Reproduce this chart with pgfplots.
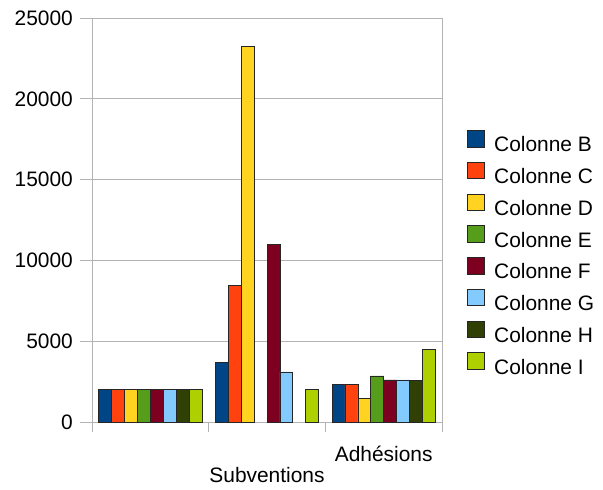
\documentclass[border=0pt]{standalone}
\usepackage{fontspec}
\setmainfont{Liberation Sans}
\usepackage{pgfplots}
\pgfplotsset{compat=1.18}

\definecolor{colB}{HTML}{004586}
\definecolor{colC}{HTML}{FF420E}
\definecolor{colD}{HTML}{FFD320}
\definecolor{colE}{HTML}{579D1C}
\definecolor{colF}{HTML}{7E0021}
\definecolor{colG}{HTML}{83CAFF}
\definecolor{colH}{HTML}{314004}
\definecolor{colI}{HTML}{AECF00}
\definecolor{gridgrey}{HTML}{B3B3B3}

\begin{document}
\fontsize{21}{25}\selectfont
\begin{tikzpicture}
\begin{axis}[
    name=ax,
    width=350bp, height=404bp, scale only axis,
    ybar=0pt, bar width=12.9bp,
    xmin=-0.5, xmax=2.5,
    ymin=0, ymax=25000,
    ytick={0,5000,10000,15000,20000,25000},
    scaled y ticks=false,
    /pgf/number format/1000 sep={},
    /pgf/number format/assume math mode=true,
    xtick pos=lower, ytick pos=left,
    xtick={0,2}, xticklabels={{},Adhésions},
    xticklabel style={yshift=-5bp},
    extra x ticks={1}, extra x tick labels={Subventions},
    extra x tick style={xticklabel style={inner sep=0pt, yshift=-28bp}, grid=none},
    minor xtick={-0.5,0.5,1.5,2.5},
    major x tick style={draw=none},
    tick align=outside,
    major tick length=12bp, minor tick length=10bp,
    tick style={draw=gridgrey, line width=0.8bp},
    axis line style={draw=gridgrey, line width=0.8bp},
    ymajorgrids, grid style={draw=gridgrey, line width=0.8bp},
    every axis plot/.append style={draw=black!85, line width=0.7bp},
    legend cell align=left,
    legend image code/.code={\draw[#1] (0bp,-2.5bp) rectangle (16.5bp,14bp);},
    legend style={draw=none, fill=none, at={(1,1)}, anchor=north west,
        xshift=25bp, yshift=-112bp, inner sep=0pt, outer sep=0pt,
        row sep=9.9bp, column sep=10bp,
        nodes={inner sep=0pt, text height=15bp, text depth=0pt}},
]
% Colonne B
\addplot[fill=colB] coordinates {(0,2000) (1,3700) (2,2350)};
% Colonne C
\addplot[fill=colC] coordinates {(0,2000) (1,8450) (2,2350)};
% Colonne D
\addplot[fill=colD] coordinates {(0,2000) (1,23250) (2,1450)};
% Colonne E
\addplot[fill=colE] coordinates {(0,2000) (2,2850)};
% Colonne F
\addplot[fill=colF] coordinates {(0,2000) (1,11000) (2,2600)};
% Colonne G
\addplot[fill=colG] coordinates {(0,2000) (1,3100) (2,2600)};
% Colonne H
\addplot[fill=colH] coordinates {(0,2000) (2,2550)};
% Colonne I
\addplot[fill=colI] coordinates {(0,2000) (1,2000) (2,4500)};
\legend{Colonne B,Colonne C,Colonne D,Colonne E,Colonne F,Colonne G,Colonne H,Colonne I}
\end{axis}
\pgfresetboundingbox
\path (ax.south west) ++(-92bp,-68bp) rectangle ++(603bp,490bp);
\end{tikzpicture}
\end{document}
